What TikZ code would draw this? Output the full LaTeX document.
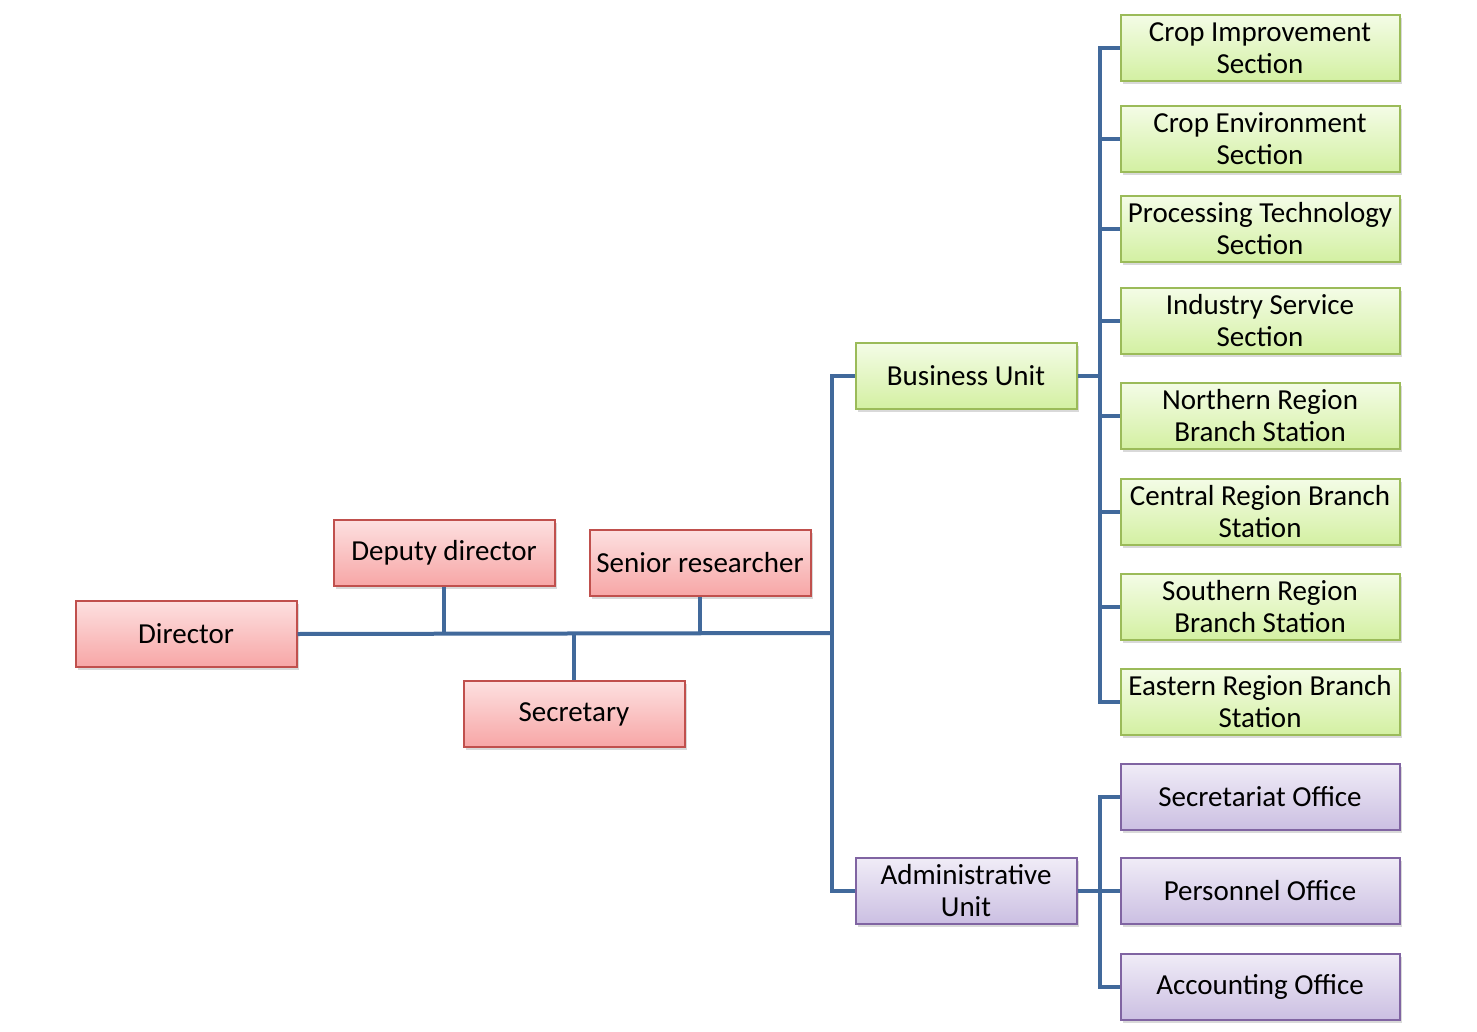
\documentclass[tikz,border=0pt]{standalone}
\usepackage{fontspec}
\setmainfont{Carlito}
\usetikzlibrary{shadows}
\definecolor{redline}{HTML}{C0504D}
\definecolor{redtop}{HTML}{FDE0E0}
\definecolor{redbot}{HTML}{F7A6A6}
\definecolor{greenline}{HTML}{9BBB59}
\definecolor{greentop}{HTML}{F4FCE6}
\definecolor{greenbot}{HTML}{D3F0A2}
\definecolor{violetline}{HTML}{8064A2}
\definecolor{violettop}{HTML}{F0ECF7}
\definecolor{violetbot}{HTML}{CBBFE2}
\definecolor{linkblue}{HTML}{41699B}
\tikzset{
	unit/.style={draw, line width=1pt, minimum width=110.5pt, minimum height=33pt,
		align=center, inner sep=1pt, font=\fontsize{14.5}{16}\selectfont,
		drop shadow={opacity=0.3, shadow xshift=1pt, shadow yshift=-1.5pt}},
	chief/.style={unit, draw=redline, top color=redtop, bottom color=redbot},
	research/.style={unit, draw=greenline, top color=greentop, bottom color=greenbot},
	office/.style={unit, draw=violetline, top color=violettop, bottom color=violetbot},
	wide/.style={minimum width=139.5pt},
	link/.style={draw=linkblue, line width=2pt}
}
\begin{document}
\begin{tikzpicture}[x=0.5pt, y=-0.5pt]
	\useasboundingbox (0,0) rectangle (1477,1032);
	\node[chief] (dir) at (186,634) {Director};
	\node[chief] (dep) at (444,553) {Deputy director};
	\node[chief] (sen) at (700,563) {Senior researcher};
	\node[chief] (sec) at (574,714) {Secretary};
	\node[research] (bu) at (966,376) {Business Unit};
	\node[office] (au) at (966,891) {Administrative\\Unit};
	\node[research, wide] (s1) at (1260,48) {Crop Improvement\\Section};
	\node[research, wide] (s2) at (1260,139) {Crop Environment\\Section};
	\node[research, wide] (s3) at (1260,229) {Processing Technology\\Section};
	\node[research, wide] (s4) at (1260,321) {Industry Service\\Section};
	\node[research, wide] (s5) at (1260,416) {Northern Region\\Branch Station};
	\node[research, wide] (s6) at (1260,512) {Central Region Branch\\Station};
	\node[research, wide] (s7) at (1260,607) {Southern Region\\Branch Station};
	\node[research, wide] (s8) at (1260,702) {Eastern Region Branch\\Station};
	\node[office, wide] (o1) at (1260,797) {Secretariat Office};
	\node[office, wide] (o2) at (1260,891) {Personnel Office};
	\node[office, wide] (o3) at (1260,987) {Accounting Office};
	\coordinate (hub) at (832,633);
	\coordinate (buhub) at (1100,376);
	\coordinate (auhub) at (1100,891);
	\draw[link] (dir.east) -- (hub);
	\draw[link] (dep.south) -- (dep.south |- hub);
	\draw[link] (sen.south) -- (sen.south |- hub);
	\draw[link] (sec.north) -- (sec.north |- hub);
	\draw[link] (hub) |- (bu.west);
	\draw[link] (hub) |- (au.west);
	\draw[link] (bu.east) -- (buhub);
	\draw[link] (au.east) -- (auhub);
	\foreach \i in {1,...,8}
		\draw[link] (buhub) |- (s\i.west);
	\foreach \i in {1,2,3}
		\draw[link] (auhub) |- (o\i.west);
\end{tikzpicture}
\end{document}
